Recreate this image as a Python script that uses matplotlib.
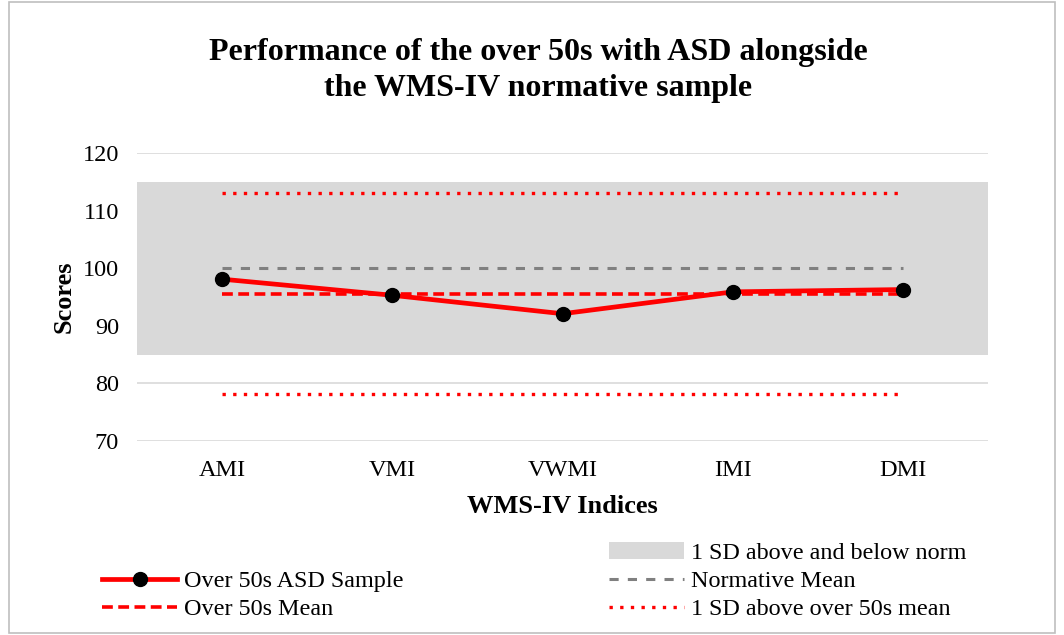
import matplotlib.pyplot as plt
from matplotlib.lines import Line2D
from matplotlib.patches import Patch, Rectangle

# data
indices = ["AMI", "VMI", "VWMI", "IMI", "DMI"]
asd_scores = [98.1, 95.3, 92.1, 95.9, 96.3]
asd_mean = 95.6
asd_sd_upper = 113.0
asd_sd_lower = 78.2
norm_mean = 100
norm_sd = 15
y_ticks = [70, 80, 90, 100, 110, 120]

plt.rcParams["font.family"] = ["Liberation Serif", "DejaVu Serif"]

DOTTED = (0, (1, 2.2))
DASHED = (0, (3, 1.5))
NORM_DASH = (0, (3, 3))

fig = plt.figure(figsize=(10.64, 6.35), dpi=100)
ax = fig.add_axes([0.1288, 0.3055, 0.80, 0.4535])

x = list(range(len(indices)))

ax.set_ylim(70, 120)
ax.set_xlim(-0.5, len(indices) - 0.5)
ax.set_yticks(y_ticks)
ax.grid(axis="y", color="#d9d9d9", lw=1.2, zorder=0)
ax.set_axisbelow(True)

ax.axhspan(norm_mean - norm_sd, norm_mean + norm_sd, color="#d9d9d9", lw=0, zorder=1)

ax.plot([x[0], x[-1]], [norm_mean, norm_mean], color="#808080", ls=NORM_DASH, lw=2.2, zorder=2)
ax.plot([x[0], x[-1]], [asd_sd_upper, asd_sd_upper], color="red", ls=DOTTED, lw=2.4, zorder=2)
ax.plot([x[0], x[-1]], [asd_sd_lower, asd_sd_lower], color="red", ls=DOTTED, lw=2.4, zorder=2)
ax.plot([x[0], x[-1]], [asd_mean, asd_mean], color="red", ls=DASHED, lw=2.6, zorder=3)
ax.plot(x, asd_scores, color="red", lw=3.4, marker="o", markersize=10,
        markerfacecolor="black", markeredgecolor="black", zorder=4)

ax.set_xticks(x)
ax.set_xticklabels(indices)
ax.tick_params(axis="x", length=0, labelsize=17.5, pad=14)
ax.tick_params(axis="y", length=0, labelsize=17.5, pad=13)
for s in ax.spines.values():
    s.set_visible(False)

ax.set_ylabel("Scores", fontsize=19, fontweight="bold", labelpad=5)
ax.set_xlabel("WMS-IV Indices", fontsize=19, fontweight="bold", labelpad=10)

fig.text(0.506, 0.889, "Performance of the over 50s with ASD alongside\nthe WMS-IV normative sample",
         ha="center", va="center", fontsize=23, fontweight="bold", linespacing=1.32)

handles = [
    Line2D([], [], color="none"),
    Line2D([], [], color="red", lw=3.4, marker="o", markersize=10,
           markerfacecolor="black", markeredgecolor="black"),
    Line2D([], [], color="red", ls=DASHED, lw=2.6),
    Patch(facecolor="#d9d9d9", edgecolor="none"),
    Line2D([], [], color="#808080", ls=NORM_DASH, lw=2.2),
    Line2D([], [], color="red", ls=DOTTED, lw=2.4),
]
labels = ["", "Over 50s ASD Sample", "Over 50s Mean",
          "1 SD above and below norm", "Normative Mean", "1 SD above over 50s mean"]
fig.legend(handles, labels, ncol=2, loc="lower left", bbox_to_anchor=(0.0755, -0.011),
           frameon=False, fontsize=17.4, handlelength=3.1, handletextpad=0.3,
           columnspacing=8.5, labelspacing=0.25)

fig.patches.append(Rectangle((0.008, 0.003), 0.984, 0.994, transform=fig.transFigure,
                             fill=False, edgecolor="#bfbfbf", lw=1.2))

fig.savefig("out.png", dpi=100)
